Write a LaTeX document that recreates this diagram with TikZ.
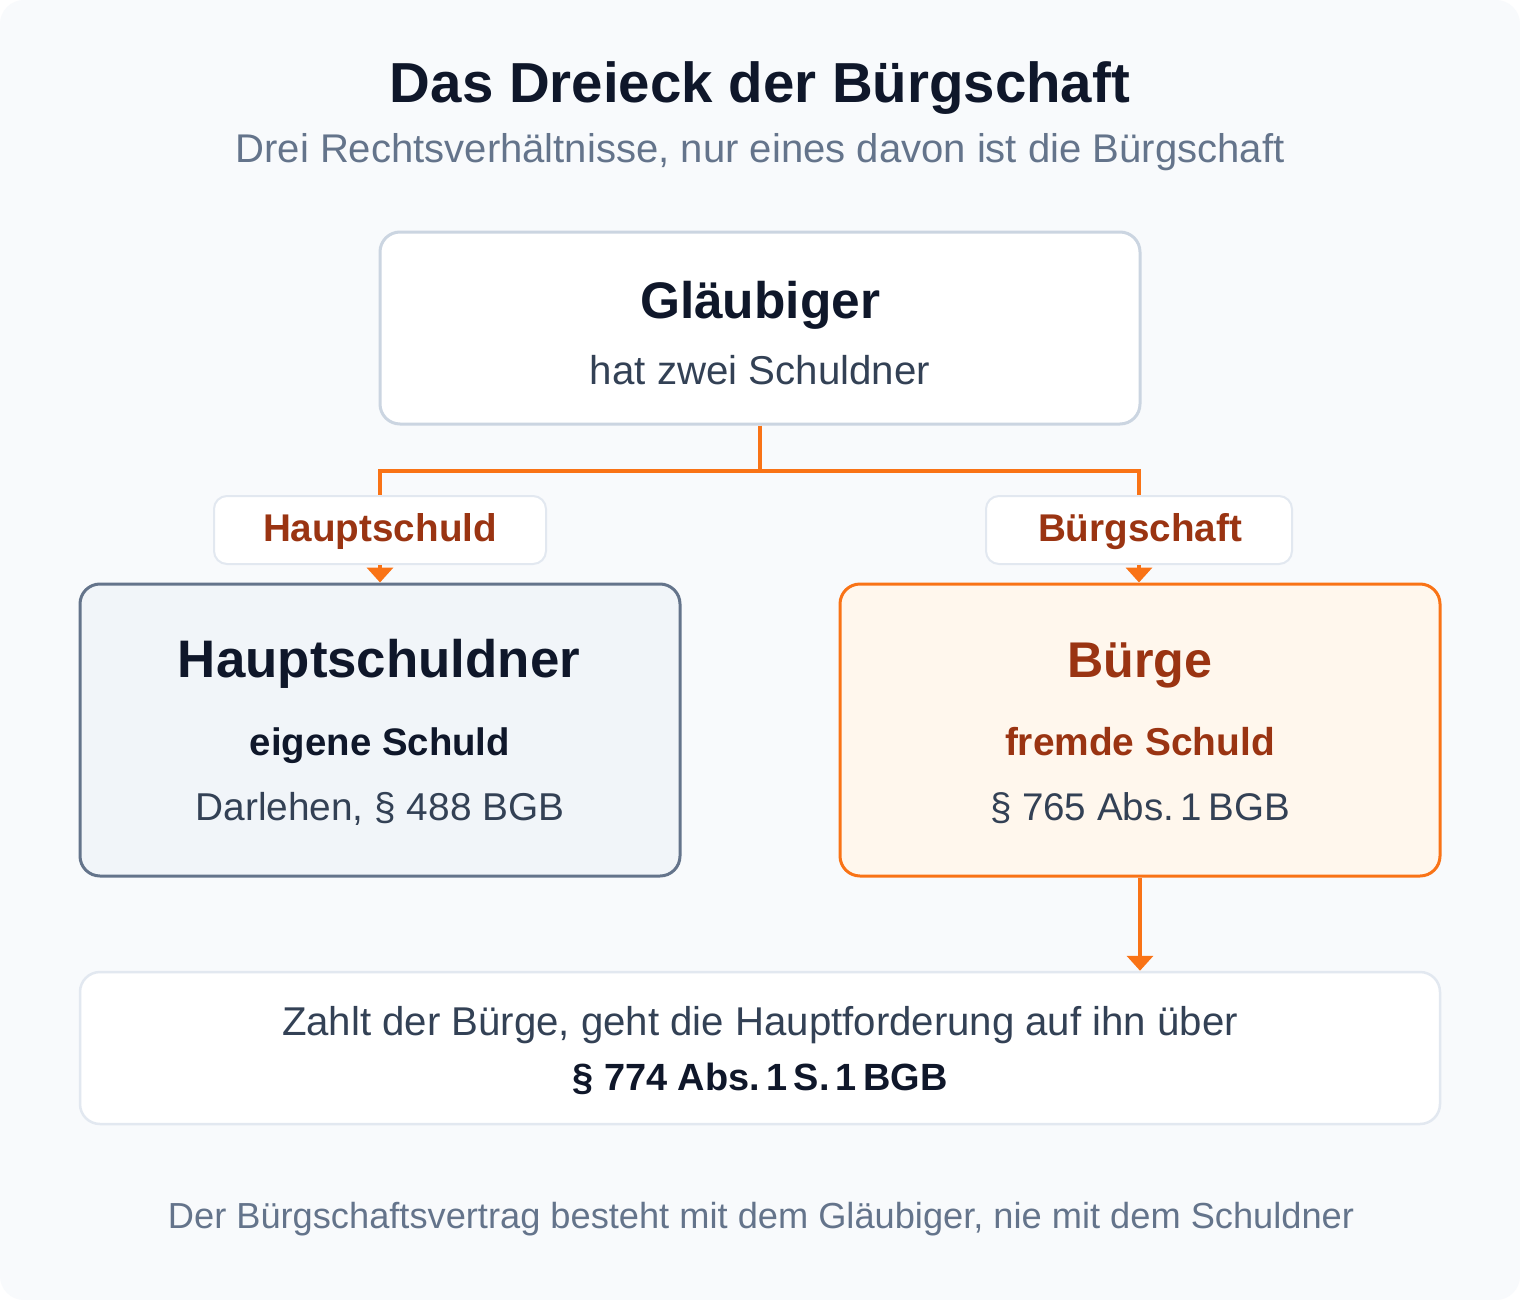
\documentclass[tikz,border=0pt]{standalone}
\usepackage{fontspec}
\setmainfont{Liberation Sans}
\usetikzlibrary{arrows.meta}
\definecolor{bgc}{HTML}{F8FAFC}
\definecolor{ink}{HTML}{0F172A}
\definecolor{muted}{HTML}{64748B}
\definecolor{body}{HTML}{334155}
\definecolor{lineA}{HTML}{CBD5E1}
\definecolor{lineB}{HTML}{E2E8F0}
\definecolor{slateB}{HTML}{64748B}
\definecolor{orng}{HTML}{F97316}
\definecolor{rust}{HTML}{9A3412}
\definecolor{fillL}{HTML}{F1F5F9}
\definecolor{fillR}{HTML}{FFF7ED}
\newcommand{\fitto}[2]{\resizebox{#1}{!}{#2}}
\tikzset{
  box/.style={draw, rounded corners=20pt, inner sep=0pt},
  tag/.style={draw=lineB, line width=2pt, fill=white, rounded corners=13pt, inner sep=0pt, minimum height=68pt},
  txt/.style={anchor=base, inner sep=0pt, outer sep=0pt},
  conn/.style={draw=orng, line width=4pt},
  arr/.style={conn, -{Triangle[width=26pt,length=15pt]}},
}
\begin{document}
\begin{tikzpicture}[x=1pt,y=-1pt]
\useasboundingbox (0,0) rectangle (1520,1300);
\fill[white] (0,0) rectangle (1520,1300);
\fill[bgc, rounded corners=24pt] (0,0) rectangle (1520,1300);

% title
\node[txt, text=ink] (title) at (760,103) {\fitto{740pt}{\fontsize{54}{60}\selectfont\bfseries Das Dreieck der Bürgschaft}};
\node[txt, text=muted] (subtitle) at (760,163) {\fitto{1049pt}{\fontsize{36}{40}\selectfont Drei Rechtsverhältnisse, nur eines davon ist die Bürgschaft}};

% boxes
\node[box, draw=lineA, line width=3pt, fill=white, minimum width=760pt, minimum height=192pt] (glaub) at (760,328) {};
\node[box, draw=slateB, line width=3pt, fill=fillL, minimum width=600pt, minimum height=292pt] (haupt) at (380,730) {};
\node[box, draw=orng, line width=3pt, fill=fillR, minimum width=600pt, minimum height=292pt] (buerge) at (1140,730) {};
\node[box, draw=lineB, line width=2.5pt, fill=white, minimum width=1360pt, minimum height=152pt] (note) at (760,1048) {};

% tag boxes
\node[tag, minimum width=332pt] (tagL) at (380,530) {};
\node[tag, minimum width=306pt] (tagR) at (1139,530) {};

% connectors
\coordinate (split) at (760,471);
\draw[conn] (glaub.south) -- (split);
\draw[conn] (split) -| (tagL.north);
\draw[conn] (split) -| (tagR.north);
\draw[arr] (tagL.south) -- (haupt.north);
\draw[arr] (tagR.south) -- (tagR.south |- buerge.north);
\draw[arr] (buerge.south) -- (buerge.south |- note.north);

% texts in Gläubiger box
\node[txt, text=ink] (tG1) at (760,318) {\fitto{240pt}{\fontsize{48}{52}\selectfont\bfseries Gläubiger}};
\node[txt, text=body] (tG2) at (760,384) {\fitto{340pt}{\fontsize{36}{40}\selectfont hat zwei Schuldner}};

% tag texts
\node[txt, text=rust] (tL) at (380,541) {\fitto{234pt}{\fontsize{34}{38}\selectfont\bfseries Hauptschuld}};
\node[txt, text=rust] (tR) at (1140,541) {\fitto{204pt}{\fontsize{34}{38}\selectfont\bfseries Bürgschaft}};

% Hauptschuldner texts
\node[txt, text=ink] (tH1) at (379,677) {\fitto{402pt}{\fontsize{50}{56}\selectfont\bfseries Hauptschuldner}};
\node[txt, text=ink] (tH2) at (380,755) {\fitto{260pt}{\fontsize{36}{40}\selectfont\bfseries eigene Schuld}};
\node[txt, text=body] (tH3) at (380,820) {\fitto{369pt}{\fontsize{36}{40}\selectfont Darlehen, § 488 BGB}};

% Bürge texts
\node[txt, text=rust] (tB1) at (1140,677) {\fitto{145pt}{\fontsize{50}{56}\selectfont\bfseries Bürge}};
\node[txt, text=rust] (tB2) at (1140,755) {\fitto{270pt}{\fontsize{36}{40}\selectfont\bfseries fremde Schuld}};
\node[txt, text=body] (tB3) at (1140,820) {\fitto{300pt}{\fontsize{36}{40}\selectfont § 765 Abs.\,1\,BGB}};

% note texts
\node[txt, text=body] (tN1) at (760,1035) {\fitto{956pt}{\fontsize{36}{40}\selectfont Zahlt der Bürge, geht die Hauptforderung auf ihn über}};
\node[txt, text=ink] (tN2) at (760,1090) {\fitto{375pt}{\fontsize{36}{40}\selectfont\bfseries § 774 Abs.\,1\,S.\,1\,BGB}};

% footer
\node[txt, text=muted] (foot) at (761,1228) {\fitto{1186pt}{\fontsize{32}{36}\selectfont Der Bürgschaftsvertrag besteht mit dem Gläubiger, nie mit dem Schuldner}};
\end{tikzpicture}
\end{document}
